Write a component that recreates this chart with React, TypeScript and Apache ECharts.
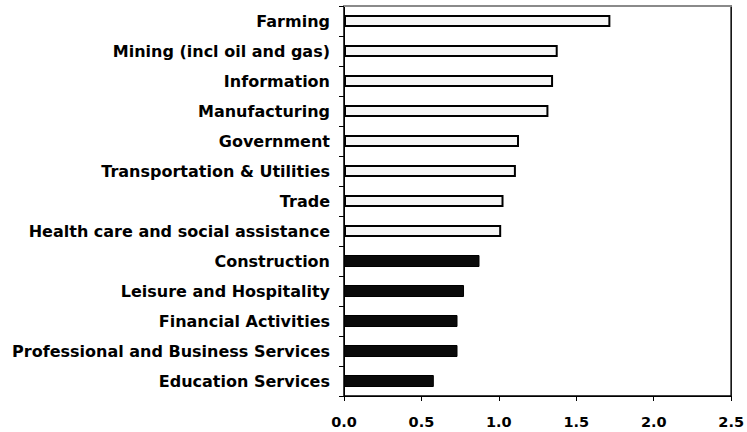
import React, { useEffect, useRef } from "react";
import * as echarts from "echarts";

const categories = [
  "Farming",
  "Mining (incl oil and gas)",
  "Information",
  "Manufacturing",
  "Government",
  "Transportation & Utilities",
  "Trade",
  "Health care and social assistance",
  "Construction",
  "Leisure and Hospitality",
  "Financial Activities",
  "Professional and Business Services",
  "Education Services",
];

const values = [1.72, 1.38, 1.35, 1.32, 1.13, 1.11, 1.03, 1.015, 0.875, 0.775, 0.733, 0.733, 0.58];

const groups = ["light", "light", "light", "light", "light", "light", "light", "light", "dark", "dark", "dark", "dark", "dark"];

const xTicks = [0, 0.5, 1.0, 1.5, 2.0, 2.5];

const FONT = "DejaVu Sans";

export default function App() {
  const ref = useRef<HTMLDivElement>(null);
  useEffect(() => {
    if (!ref.current) return;
    const chart = echarts.init(ref.current, undefined, { renderer: "svg" });
    const xMin = xTicks[0];
    const xMax = xTicks[xTicks.length - 1];
    chart.setOption({
      animation: false,
      backgroundColor: "#ffffff",
      grid: {
        left: 344,
        right: 15,
        top: 6,
        bottom: 36,
        containLabel: false,
        show: true,
        borderColor: "#000",
        borderWidth: 1.5,
        backgroundColor: "transparent",
      },
      xAxis: [
        {
          type: "value",
          min: xMin,
          max: xMax,
          interval: 0.5,
          position: "bottom",
          splitLine: { show: false },
          axisLine: { show: true, onZero: false, lineStyle: { color: "#000", width: 1 } },
          axisTick: { show: true, length: 5, lineStyle: { color: "#000" } },
          axisLabel: {
            margin: 18,
            color: "#000",
            fontFamily: FONT,
            fontWeight: "bold",
            fontSize: 14.5,
            formatter: (v: number) => v.toFixed(1),
          },
        },
        {
          type: "value",
          min: xMin,
          max: xMax,
          position: "top",
          splitLine: { show: false },
          axisLine: { show: true, onZero: false, lineStyle: { color: "#8a8a8a", width: 2 } },
          axisTick: { show: false },
          axisLabel: { show: false },
        },
      ],
      yAxis: [
        {
          type: "category",
          data: categories,
          inverse: true,
          axisLine: { show: true, onZero: false, lineStyle: { color: "#000", width: 1 } },
          axisTick: { show: true, length: 5, lineStyle: { color: "#000" } },
          axisLabel: {
            margin: 14,
            color: "#000",
            fontFamily: FONT,
            fontWeight: "bold",
            fontSize: 16,
          },
        },
      ],
      series: [
        {
          type: "bar",
          xAxisIndex: 0,
          yAxisIndex: 0,
          barWidth: 12,
          data: values.map((v, i) => ({
            value: v,
            itemStyle:
              groups[i] === "light"
                ? { color: "#f6f6f6", borderColor: "#000", borderWidth: 2 }
                : { color: "#0a0a0a", borderColor: "#000", borderWidth: 1 },
          })),
        },
      ],
    });
    return () => chart.dispose();
  }, []);
  return <div ref={ref} style={{ width: 747, height: 432, position: "absolute", left: 0, top: 0 }} />;
}
